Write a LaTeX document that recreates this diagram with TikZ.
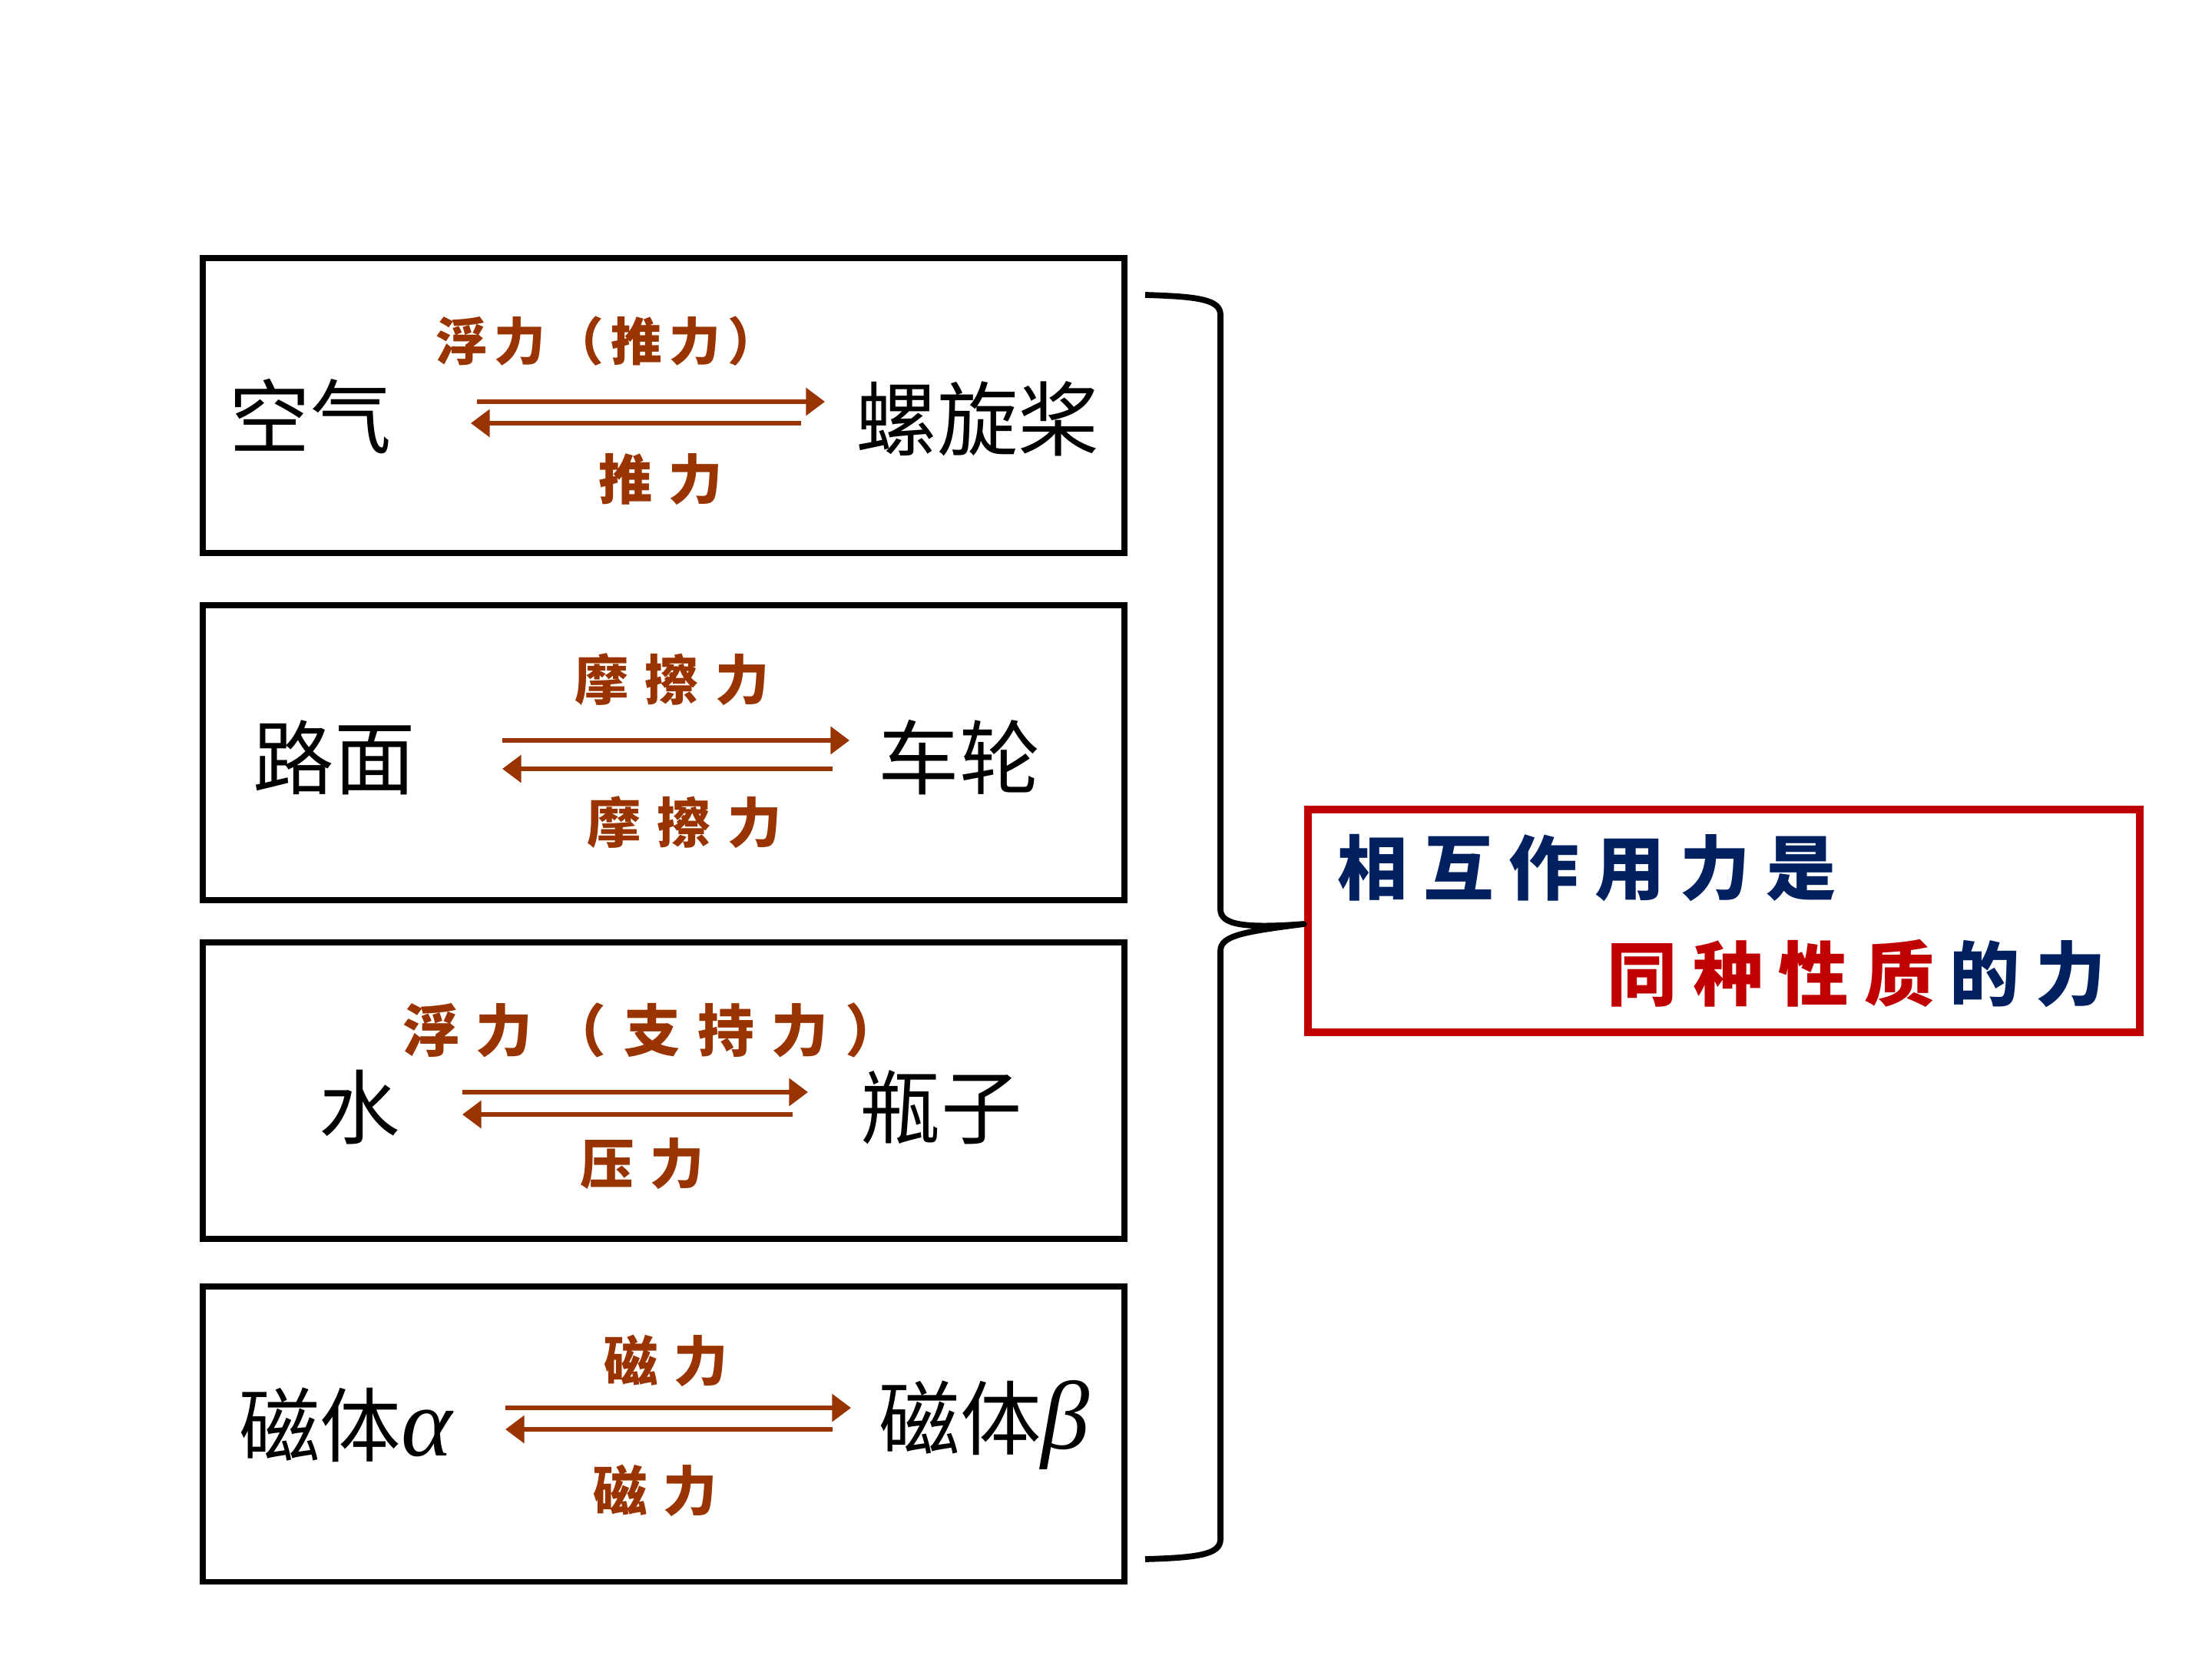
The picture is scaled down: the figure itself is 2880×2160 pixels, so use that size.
\documentclass[tikz,border=0pt]{standalone}
\usepackage{fontspec}
\usetikzlibrary{arrows.meta}
\newfontfamily\cjk{Noto Sans CJK SC}
\newfontfamily\cjklab[LetterSpace=30]{Noto Sans CJK SC}
\newfontfamily\cjkparen[LetterSpace=14]{Noto Sans CJK SC}
\newfontfamily\cjkred[LetterSpace=22]{Noto Sans CJK SC}
\newfontfamily\grk{Liberation Serif}
\definecolor{brownlab}{RGB}{153,51,0}
\definecolor{darkblue}{RGB}{0,32,96}
\definecolor{boxred}{RGB}{192,0,0}
\tikzset{
  pairbox/.style={draw=black,line width=2pt},
  term/.style={font=\cjk\fontsize{30}{32}\selectfont,inner sep=0pt},
  flab/.style={font=\cjklab\bfseries\fontsize{20}{22}\selectfont,text=brownlab,inner sep=0pt},
  plab/.style={font=\cjkparen\bfseries\fontsize{19}{21}\selectfont,text=brownlab,inner sep=0pt},
  farrow/.style={draw=brownlab,line width=1.6pt,-{Triangle[length=7pt,width=10pt]}},
  concl/.style={font=\cjkred\bfseries\fontsize{26}{28}\selectfont,inner sep=0pt,anchor=west},
}
\newcommand{\grkit}[1]{{\grk\itshape\fontsize{36}{38}\selectfont #1}}
\begin{document}
\begin{tikzpicture}[x=0.01cm,y=-0.01cm]
\useasboundingbox (0,0) rectangle (2880,2160);
% boxes
\draw[pairbox] (264,336) rectangle (1464,720);
\draw[pairbox] (264,788) rectangle (1464,1172);
\draw[pairbox] (264,1227) rectangle (1464,1613);
\draw[pairbox] (264,1675) rectangle (1464,2059);
% box 1
\node[term] (air) at (404,542) {空气};
\node[term] (prop) at (1273,545) {螺旋桨};
\node[plab] (l1a) at (791,444) {浮力（推力）};
\node[flab] (l1b) at (860,624) {推力};
\coordinate (a1s) at (621,523); \coordinate (a1e) at (1074,523);
\coordinate (b1s) at (1043,551); \coordinate (b1e) at (613,551);
\draw[farrow] (a1s) -- (a1e);
\draw[farrow] (b1s) -- (b1e);
% box 2
\node[term] (road) at (435,986) {路面};
\node[term] (wheel) at (1249,986) {车轮};
\node[flab] (l2a) at (875,885) {摩擦力};
\node[flab] (l2b) at (891,1071) {摩擦力};
\coordinate (a2s) at (654,964); \coordinate (a2e) at (1106,964);
\coordinate (b2s) at (1084,1001); \coordinate (b2e) at (654,1001);
\draw[farrow] (a2s) -- (a2e);
\draw[farrow] (b2s) -- (b2e);
% box 3
\node[term] (water) at (468,1442) {水};
\node[term] (bottle) at (1225,1442) {瓶子};
\node[plab,font=\cjklab\bfseries\fontsize{21}{23}\selectfont] (l3a) at (849,1341) {浮力（支持力）};
\node[flab] (l3b) at (836,1515) {压力};
\coordinate (a3s) at (602,1422); \coordinate (a3e) at (1052,1422);
\coordinate (b3s) at (1032,1451); \coordinate (b3e) at (602,1451);
\draw[farrow] (a3s) -- (a3e);
\draw[farrow] (b3s) -- (b3e);
% box 4
\node[term] (maga) at (450,1855) {磁体\grkit{α}};
\node[term] (magb) at (1282,1855) {磁体\grkit{β}};
\node[flab] (l4a) at (867,1772) {磁力};
\node[flab] (l4b) at (853,1941) {磁力};
\coordinate (a4s) at (658,1833); \coordinate (a4e) at (1108,1833);
\coordinate (b4s) at (1084,1861); \coordinate (b4e) at (658,1861);
\draw[farrow] (a4s) -- (a4e);
\draw[farrow] (b4s) -- (b4e);
% conclusion box
\node[draw=boxred,line width=3pt,minimum width=1083*0.01cm,minimum height=290*0.01cm,inner sep=0pt] (res) at (2244.5,1199) {};
\node[concl,text=darkblue] (r1) at (1741,1130) {相互作用力是};
\node[concl] (r2) at (2092,1267) {\textcolor{boxred}{同种性质}\hspace{0.22em}\textcolor{darkblue}{的力}};
% brace
\coordinate (bt) at (1491,384);
\coordinate (bb) at (1491,2030);
\coordinate (tip) at ([yshift=-0.04cm]res.west);
\draw[line width=2.2pt,line join=round] (bt) .. controls (1560,386) and (1589,390) .. (1589,410)
  -- (1589,1184) .. controls (1589,1204) and (1620,1209) .. (tip)
  .. controls (1620,1213) and (1589,1218) .. (1589,1238)
  -- (1589,2004) .. controls (1589,2024) and (1560,2028) .. (bb);
\end{tikzpicture}
\end{document}
